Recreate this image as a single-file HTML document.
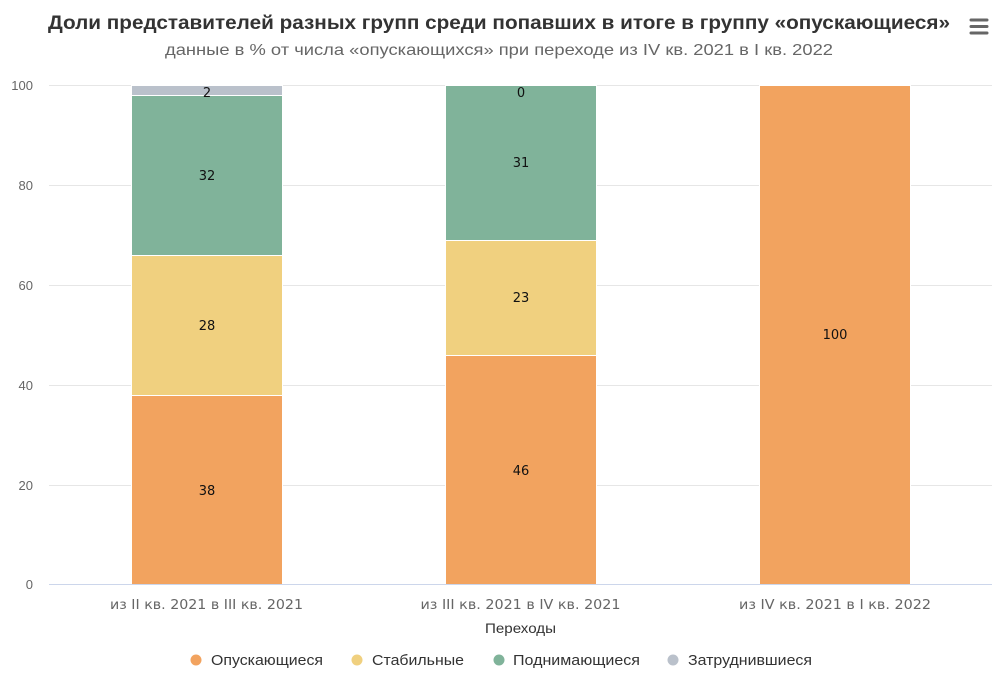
<!DOCTYPE html>
<html><head><meta charset="utf-8"><style>
html,body{margin:0;padding:0;background:#fff;}
svg{display:block;}
</style></head><body>
<svg width="999" height="692" viewBox="0 0 999 692" xmlns="http://www.w3.org/2000/svg">
<rect width="999" height="692" fill="#fff"/>
<text x="499" y="29" text-anchor="middle" font-family="Liberation Sans, sans-serif" font-weight="bold" font-size="19" fill="#333" textLength="902" lengthAdjust="spacingAndGlyphs">Доли представителей разных групп среди попавших в итоге в группу «опускающиеся»</text>
<text x="499" y="55" text-anchor="middle" font-family="Liberation Sans, sans-serif" font-size="16" fill="#666" textLength="668" lengthAdjust="spacingAndGlyphs">данные в % от числа «опускающихся» при переходе из IV кв. 2021 в I кв. 2022</text>
<g stroke="#666" stroke-width="3" stroke-linecap="round">
<line x1="971" y1="20" x2="987" y2="20"/><line x1="971" y1="26.5" x2="987" y2="26.5"/><line x1="971" y1="33" x2="987" y2="33"/>
</g>
<g stroke="#e6e6e6" stroke-width="1">
<line x1="49" y1="85.5" x2="992" y2="85.5"/>
<line x1="49" y1="185.5" x2="992" y2="185.5"/>
<line x1="49" y1="285.5" x2="992" y2="285.5"/>
<line x1="49" y1="385.5" x2="992" y2="385.5"/>
<line x1="49" y1="485.5" x2="992" y2="485.5"/>
</g>
<g font-family="Liberation Sans, sans-serif" font-size="13" fill="#666" text-anchor="end">
<text x="33" y="90">100</text><text x="33" y="190">80</text><text x="33" y="290">60</text><text x="33" y="390">40</text><text x="33" y="490">20</text><text x="33" y="589">0</text>
</g>
<g stroke="#fff" stroke-width="1">
<rect x="131.5" y="395.5" width="151" height="189.5" fill="#f2a35f"/>
<rect x="131.5" y="255.5" width="151" height="140" fill="#f0d07f"/>
<rect x="131.5" y="95.5" width="151" height="160" fill="#80b39a"/>
<rect x="131.5" y="85.5" width="151" height="10" fill="#bac1cb"/>
<rect x="445.5" y="355.5" width="151" height="229.5" fill="#f2a35f"/>
<rect x="445.5" y="240.5" width="151" height="115" fill="#f0d07f"/>
<rect x="445.5" y="85.5" width="151" height="155" fill="#80b39a"/>
<rect x="759.5" y="85.5" width="151" height="499.5" fill="#f2a35f"/>
</g>
<line x1="49" y1="584.5" x2="992" y2="584.5" stroke="#ccd6eb" stroke-width="1"/>
<g font-family="DejaVu Sans, sans-serif" font-size="13" fill="#111" text-anchor="middle">
<text x="207" y="495">38</text><text x="207" y="330">28</text><text x="207" y="180">32</text><text x="207" y="97">2</text>
<text x="521" y="475">46</text><text x="521" y="302">23</text><text x="521" y="167">31</text><text x="521" y="97">0</text>
<text x="835" y="339">100</text>
</g>
<g font-family="DejaVu Sans, sans-serif" font-size="13" fill="#666" text-anchor="middle">
<text x="206.5" y="609" textLength="193" lengthAdjust="spacingAndGlyphs">из II кв. 2021 в III кв. 2021</text>
<text x="520.5" y="609" textLength="200" lengthAdjust="spacingAndGlyphs">из III кв. 2021 в IV кв. 2021</text>
<text x="835" y="609" textLength="192" lengthAdjust="spacingAndGlyphs">из IV кв. 2021 в I кв. 2022</text>
</g>
<text x="520.5" y="633" text-anchor="middle" font-family="Liberation Sans, sans-serif" font-size="14" fill="#333" textLength="71" lengthAdjust="spacingAndGlyphs">Переходы</text>
<g font-family="Liberation Sans, sans-serif" font-size="15" fill="#333">
<circle cx="196" cy="660" r="5.5" fill="#f2a35f"/><text x="211" y="665" textLength="112" lengthAdjust="spacingAndGlyphs">Опускающиеся</text>
<circle cx="357" cy="660" r="5.5" fill="#f0d07f"/><text x="372" y="665" textLength="92" lengthAdjust="spacingAndGlyphs">Стабильные</text>
<circle cx="499" cy="660" r="5.5" fill="#80b39a"/><text x="513" y="665" textLength="127" lengthAdjust="spacingAndGlyphs">Поднимающиеся</text>
<circle cx="673" cy="660" r="5.5" fill="#bac1cb"/><text x="688" y="665" textLength="124" lengthAdjust="spacingAndGlyphs">Затруднившиеся</text>
</g>
</svg>
</body></html>
